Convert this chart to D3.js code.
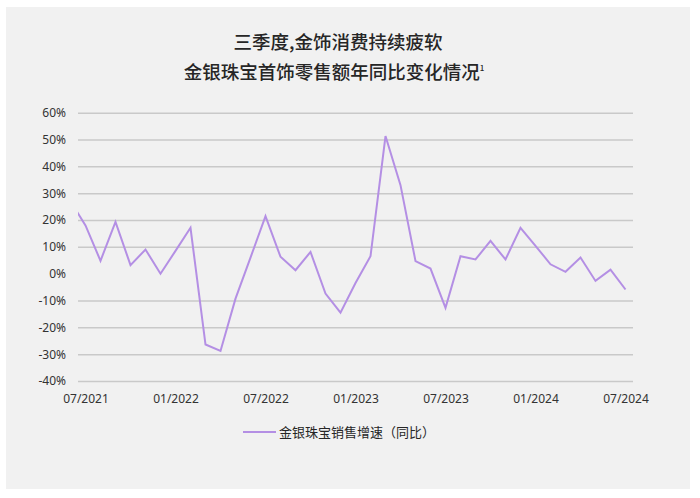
<!DOCTYPE html>
<html>
<head>
<meta charset="utf-8">
<script src="https://cdn.jsdelivr.net/npm/d3@7"></script>
<style>
  html, body { margin: 0; padding: 0; background: #ffffff; }
  svg { display: block; font-family: "Noto Sans CJK SC", "Noto Sans", sans-serif; }
</style>
</head>
<body>
<svg id="chart" width="700" height="498"></svg>
<script>
// Months (06/2021 is only partly visible at the left edge of the plot)
const months = [
  "06/2021","07/2021","08/2021","09/2021","10/2021","11/2021","12/2021",
  "01/2022","02/2022","03/2022","04/2022","05/2022","06/2022","07/2022","08/2022","09/2022","10/2022","11/2022","12/2022",
  "01/2023","02/2023","03/2023","04/2023","05/2023","06/2023","07/2023","08/2023","09/2023","10/2023","11/2023","12/2023",
  "01/2024","02/2024","03/2024","04/2024","05/2024","06/2024","07/2024"
];
// 金银珠宝销售增速（同比）, %
const growth = [
  27, 18, 4.8, 19.3, 3.2, 9, 0,
  8.5, 17.1, -26.4, -28.8, -9.3, 6, 21.4, 6.3, 1.3, 8.1, -7.4, -14.5,
  -3.5, 6.5, 51.3, 33, 4.7, 1.9, -12.7, 6.5, 5.3, 12.2, 5.3, 17.1,
  10.4, 3.5, 0.7, 6, -2.7, 1.5, -5.9
];
const xTickLabels = ["07/2021","01/2022","07/2022","01/2023","07/2023","01/2024","07/2024"];
const yTicks = [60, 50, 40, 30, 20, 10, 0, -10, -20, -30, -40];
const titleLines = ["三季度,金饰消费持续疲软", "金银珠宝首饰零售额年同比变化情况"];
const seriesName = "金银珠宝销售增速（同比）";

const svg = d3.select("#chart");

// card background
svg.append("rect").attr("x", 6).attr("y", 7).attr("width", 684).attr("height", 482)
  .attr("fill", "#f1f1f1");

const plot = { left: 78, right: 633, top: 112.7, bottom: 381 };

const x = d3.scalePoint().domain(months).range([70.5, 625.5]);
const y = d3.scaleLinear().domain([-40, 60]).range([plot.bottom, plot.top]);

// title
svg.append("text").attr("x", 338).attr("y", 49).attr("text-anchor", "middle")
  .attr("font-size", 18.5).attr("font-weight", 500).attr("fill", "#262626").text(titleLines[0]);
const t2 = svg.append("text").attr("x", 334).attr("y", 79).attr("text-anchor", "middle")
  .attr("font-size", 18.5).attr("font-weight", 500).attr("fill", "#262626");
t2.append("tspan").text(titleLines[1]);
t2.append("tspan").attr("font-size", 8).attr("dy", -8).text("1");

// gridlines (no line at 0%)
const grid = svg.append("g")
  .attr("transform", `translate(${plot.left},0)`)
  .call(d3.axisLeft(y).tickValues(yTicks.filter(v => v !== 0))
    .tickSize(-(plot.right - plot.left)).tickFormat(""));
grid.select(".domain").remove();
grid.selectAll(".tick line").attr("stroke", "#c9c9c9").attr("stroke-width", 1.5);

// y labels
const yAxis = svg.append("g").attr("transform", `translate(${plot.left},0)`)
  .call(d3.axisLeft(y).tickValues(yTicks).tickSize(0).tickPadding(12)
    .tickFormat(d => d + "%"));
yAxis.select(".domain").remove();
yAxis.selectAll("text").attr("font-size", 12).attr("fill", "#333")
  .attr("font-family", "'Noto Sans', sans-serif");

// x labels
const xAxis = svg.append("g").attr("transform", `translate(0,${plot.bottom})`)
  .call(d3.axisBottom(x).tickValues(xTickLabels).tickSize(0).tickPadding(13));
xAxis.select(".domain").remove();
xAxis.selectAll("text").attr("font-size", 12).attr("fill", "#333")
  .attr("font-family", "'Noto Sans', sans-serif");

// clip
svg.append("clipPath").attr("id", "clip").append("rect")
  .attr("x", plot.left).attr("y", 0).attr("width", plot.right - plot.left).attr("height", 498);

const line = d3.line().x((d, i) => x(months[i])).y(d => y(d));
svg.append("path").datum(growth)
  .attr("clip-path", "url(#clip)")
  .attr("fill", "none").attr("stroke", "#b48fe4").attr("stroke-width", 2)
  .attr("stroke-linejoin", "miter")
  .attr("d", line);

// legend
const lg = svg.append("g").attr("transform", "translate(243,432)");
lg.append("line").attr("x1", 0).attr("x2", 33).attr("y1", 0).attr("y2", 0)
  .attr("stroke", "#b48fe4").attr("stroke-width", 2);
lg.append("text").attr("x", 36).attr("y", 0).attr("dy", "0.35em")
  .attr("font-size", 13).attr("fill", "#262626").text(seriesName);
</script>
</body>
</html>
